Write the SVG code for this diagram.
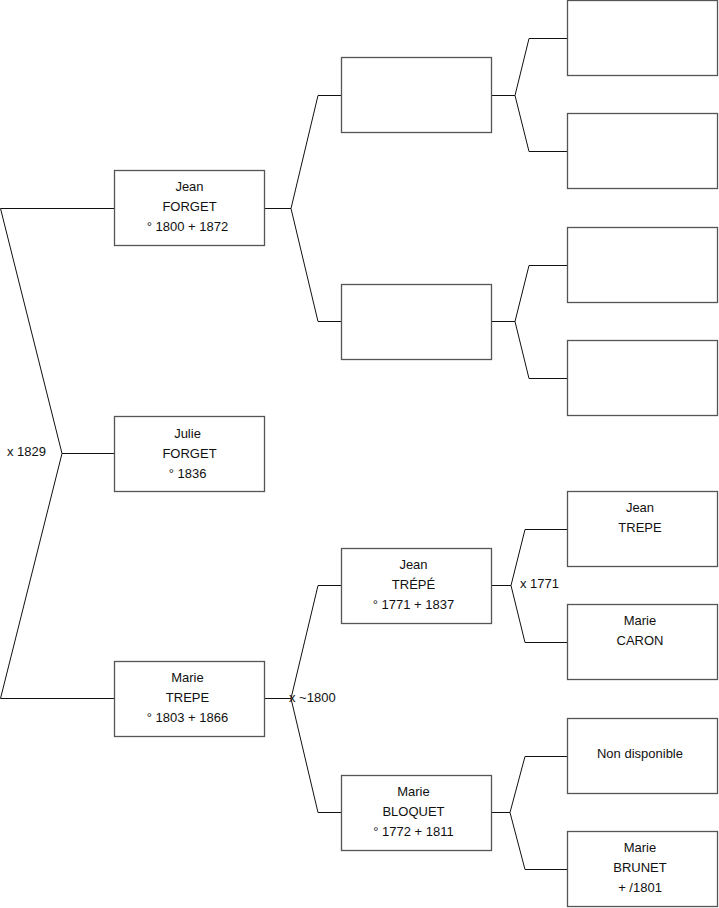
<svg xmlns="http://www.w3.org/2000/svg" width="719" height="908" viewBox="0 0 719 908">
<style>
.box{fill:#fff;stroke:#555;stroke-width:1.3}
.c{fill:none;stroke:#111;stroke-width:1}
text{font-family:"Liberation Sans",Arial,sans-serif;font-size:13px;fill:#111}
.m{text-anchor:middle}
</style>
<rect width="719" height="908" fill="#fff"/>
<g id="connectors">
<polyline class="c" points="114,208.5 0.5,208.5 62,453.5 0.5,698.5 114,698.5"/>
<line class="c" x1="62" y1="453.5" x2="114" y2="453.5"/>
<polyline class="c" points="341,95.5 318,95.5 291,208.5 318,321.5 341,321.5"/>
<line class="c" x1="265" y1="208.5" x2="291" y2="208.5"/>
<polyline class="c" points="341,585.5 318,585.5 291,698.5 318,812.5 341,812.5"/>
<line class="c" x1="265" y1="698.5" x2="291" y2="698.5"/>
<polyline class="c" points="567,38.5 529,38.5 515,95.5 529,151.5 567,151.5"/>
<line class="c" x1="492" y1="95.5" x2="515" y2="95.5"/>
<polyline class="c" points="567,265.5 529,265.5 515,321.5 529,378.5 567,378.5"/>
<line class="c" x1="492" y1="321.5" x2="515" y2="321.5"/>
<polyline class="c" points="567,529.5 525,529.5 511,585.5 525,642.5 567,642.5"/>
<line class="c" x1="492" y1="585.5" x2="511" y2="585.5"/>
<polyline class="c" points="567,756.5 525,756.5 510,812.5 525,869.5 567,869.5"/>
<line class="c" x1="492" y1="812.5" x2="510" y2="812.5"/>
</g>
<g id="labels">
<text x="7" y="456">x 1829</text>
<text x="289" y="702">x ~1800</text>
<text x="520" y="588">x 1771</text>
</g>
<g id="jean-forget"><rect class="box" x="114.5" y="170.5" width="150" height="75"/>
<text class="m" x="189.5" y="191">Jean</text><text class="m" x="189.5" y="211">FORGET</text><text class="m" x="187.5" y="231">° 1800 + 1872</text></g>
<g id="julie-forget"><rect class="box" x="114.5" y="416.5" width="150" height="75"/>
<text class="m" x="187.5" y="438">Julie</text><text class="m" x="189.5" y="458">FORGET</text><text class="m" x="187.5" y="478">° 1836</text></g>
<g id="marie-trepe"><rect class="box" x="114.5" y="661.5" width="150" height="75"/>
<text class="m" x="187.5" y="682">Marie</text><text class="m" x="187.5" y="702">TREPE</text><text class="m" x="187.5" y="722">° 1803 + 1866</text></g>
<g id="p4"><rect class="box" x="341.5" y="57.5" width="150" height="75"/></g>
<g id="p5"><rect class="box" x="341.5" y="284.5" width="150" height="75"/></g>
<g id="jean-trepe"><rect class="box" x="341.5" y="548.5" width="150" height="75"/>
<text class="m" x="413.5" y="569">Jean</text><text class="m" x="413.5" y="589">TRÉPÉ</text><text class="m" x="413.5" y="609">° 1771 + 1837</text></g>
<g id="marie-bloquet"><rect class="box" x="341.5" y="775.5" width="150" height="75"/>
<text class="m" x="413.5" y="796">Marie</text><text class="m" x="413.5" y="816">BLOQUET</text><text class="m" x="413.5" y="836">° 1772 + 1811</text></g>
<g id="p8"><rect class="box" x="567.5" y="0.5" width="150" height="75"/></g>
<g id="p9"><rect class="box" x="567.5" y="113.5" width="150" height="75"/></g>
<g id="p10"><rect class="box" x="567.5" y="227.5" width="150" height="75"/></g>
<g id="p11"><rect class="box" x="567.5" y="340.5" width="150" height="75"/></g>
<g id="jean-trepe-sr"><rect class="box" x="567.5" y="491.5" width="150" height="75"/>
<text class="m" x="640" y="512">Jean</text><text class="m" x="640" y="532">TREPE</text></g>
<g id="marie-caron"><rect class="box" x="567.5" y="604.5" width="150" height="75"/>
<text class="m" x="640" y="625">Marie</text><text class="m" x="640" y="645">CARON</text></g>
<g id="non-disponible"><rect class="box" x="567.5" y="718.5" width="150" height="75"/>
<text class="m" x="640" y="758">Non disponible</text></g>
<g id="marie-brunet"><rect class="box" x="567.5" y="831.5" width="150" height="75"/>
<text class="m" x="640" y="852">Marie</text><text class="m" x="640" y="872">BRUNET</text><text class="m" x="640" y="892">+ /1801</text></g>
</svg>
